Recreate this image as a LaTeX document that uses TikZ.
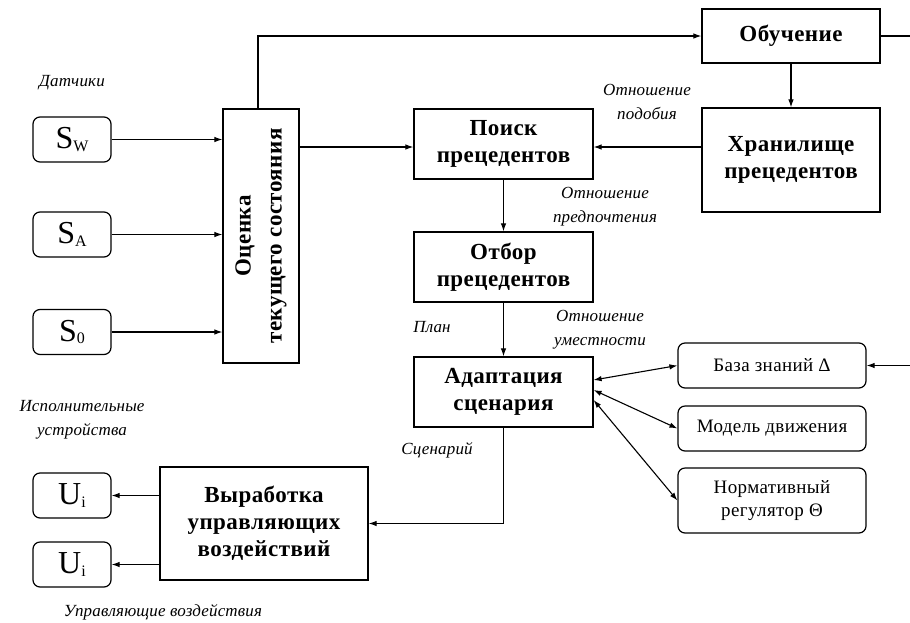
\documentclass[tikz,border=0pt]{standalone}
\usepackage{fontspec}
\setmainfont{Liberation Serif}
\newfontfamily\spaced[LetterSpace=2]{Liberation Serif}
\newfontfamily\spacedit[LetterSpace=1]{Liberation Serif}
\newfontfamily\spacedrm[LetterSpace=2]{Liberation Serif}
\usetikzlibrary{arrows.meta,calc}
\tikzset{
  blk/.style={draw, line width=1.2pt, align=center, inner sep=2pt,
    font=\fontsize{23}{27}\spaced\bfseries\selectfont},
  rbox/.style={draw, rounded corners=7pt, line width=1.2pt, align=center, inner sep=2pt},
  sens/.style={rbox, minimum width=78pt, minimum height=45pt, font=\fontsize{32}{34}\selectfont},
  kb/.style={rbox, minimum width=188pt, font=\fontsize{19}{23}\spacedrm\selectfont},
  lbl/.style={font=\fontsize{17}{24}\spacedit\itshape\selectfont, align=center, inner sep=0pt},
  arr/.style={-{Latex[length=8pt,width=5.5pt]}, line width=1.1pt},
  darr/.style={{Latex[length=8pt,width=5.5pt]}-{Latex[length=8pt,width=5.5pt]}, line width=1.1pt},
  ln/.style={line width=1.1pt}
}
\newcommand{\sbx}[2]{#1\raisebox{-2.5pt}{\fontsize{16}{16}\selectfont #2}}
\begin{document}
\begin{tikzpicture}[x=1pt,y=-1pt]
\useasboundingbox (0,0) rectangle (910,622);
% main blocks
\node[blk, minimum width=76pt, minimum height=254pt] (ocenka) at (261,236) {};
\node[font=\fontsize{23}{31}\spaced\bfseries\selectfont, align=center, rotate=90] at (ocenka) {Оценка\\текущего состояния};
\node[blk, minimum width=178pt, minimum height=54pt] (obuch) at (791,36) {Обучение};
\node[blk, minimum width=178pt, minimum height=104pt] (hran) at (791,160) {Хранилище\\прецедентов};
\node[blk, minimum width=179pt, minimum height=70pt] (poisk) at (503.5,144) {Поиск\\прецедентов};
\node[blk, minimum width=179pt, minimum height=70pt] (otbor) at (503.5,267) {Отбор\\прецедентов};
\node[blk, minimum width=179pt, minimum height=70pt] (adapt) at (503.5,392) {Адаптация\\сценария};
\node[blk, minimum width=208pt, minimum height=113pt] (vyr) at (264,523.5) {Выработка\\управляющих\\воздействий};
% sensors
\node[sens] (sw) at (72,139.5) {\sbx{S}{W}};
\node[sens] (sa) at (72,234.5) {\sbx{S}{A}};
\node[sens] (s0) at (72,332) {\sbx{S}{0}};
% actuators
\node[sens] (u1) at (72,495.5) {\sbx{U}{i}};
\node[sens] (u2) at (72,564.5) {\sbx{U}{i}};
% knowledge boxes
\node[kb, minimum height=45pt] (baza) at (772,365.5) {База знаний Δ};
\node[kb, minimum height=45pt] (model) at (772,428.5) {Модель движения};
\node[kb, minimum height=65pt] (norm) at (772,500.5) {Нормативный\\регулятор Θ};
% labels
\node[lbl] (l1) at (72,83) {Датчики};
\node[lbl] (l2) at (647,102) {Отношение\\подобия};
\node[lbl] (l3) at (605,207) {Отношение\\предпочтения};
\node[lbl] (l4) at (432,327) {План};
\node[lbl] (l5) at (600,330) {Отношение\\уместности};
\node[lbl] (l6) at (82,420) {Исполнительные\\устройства};
\node[lbl] (l7) at (437,450) {Сценарий};
\node[lbl] (l8) at (163,612) {Управляющие воздействия};
% free ends
\coordinate (rtop) at (910,36);
\coordinate (rbase) at (910,365.5);
% connectors
\draw[arr] (sw.east) -- (sw.east -| ocenka.west);
\draw[arr] (sa.east) -- (sa.east -| ocenka.west);
\draw[arr] (s0.east) -- (s0.east -| ocenka.west);
\draw[arr] ($(ocenka.north)+(-3,0)$) |- (obuch.west);
\draw[ln] (obuch.east) -- (rtop);
\draw[arr] (ocenka.east |- 0,147) -- (poisk.west |- 0,147);
\draw[arr] (obuch.south) -- (hran.north);
\draw[arr] (hran.west |- 0,147) -- (poisk.east |- 0,147);
\draw[arr] (poisk.south) -- (otbor.north);
\draw[arr] (otbor.south) -- (adapt.north);
\draw[darr] ($(adapt.east)+(0,-12)$) -- (baza.west);
\draw[darr] ($(adapt.east)+(0,-2)$) -- (model.west);
\draw[darr] ($(adapt.east)+(0,8)$) -- (norm.west);
\draw[arr] (rbase) -- (baza.east);
\draw[arr] (adapt.south) |- (vyr.east);
\draw[arr] (vyr.west |- u1.east) -- (u1.east);
\draw[arr] (vyr.west |- u2.east) -- (u2.east);
\end{tikzpicture}
\end{document}
